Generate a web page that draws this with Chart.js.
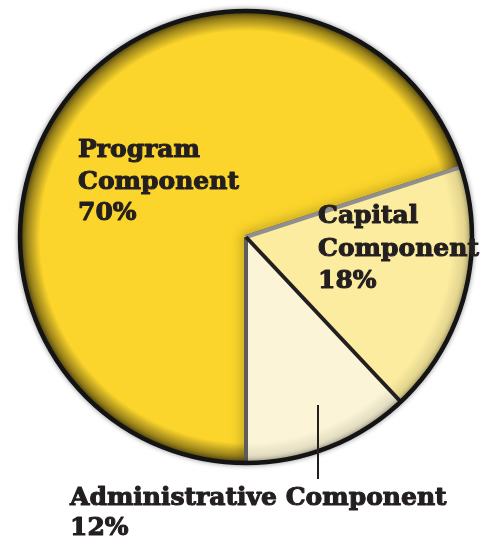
<!DOCTYPE html>
<html>
<head>
<meta charset="utf-8">
<script src="https://cdn.jsdelivr.net/npm/chart.js@4.4.0/dist/chart.umd.min.js"></script>
<style>
  html, body { margin: 0; padding: 0; background: #fff; }
  #wrap { width: 489px; height: 538px; position: relative; }
</style>
</head>
<body>
<div id="wrap"><canvas id="pie"></canvas></div>
<script>
// --- Data ---
const categories = ['Program Component', 'Capital Component', 'Administrative Component'];
const shares = [70, 18, 12];

// --- Finishing touches: edge shading, seams, outer rim ---
const pieFinish = {
    id: 'pieFinish',
    afterDatasetsDraw(chart) {
        const ctx = chart.ctx;
        const arcs = chart.getDatasetMeta(0).data;
        const cx = arcs[0].x, cy = arcs[0].y, r = arcs[0].outerRadius;

        function sector(arc) {
            ctx.beginPath();
            ctx.moveTo(cx, cy);
            ctx.arc(cx, cy, r, arc.startAngle, arc.endAngle);
            ctx.closePath();
        }
        function ray(a) {
            ctx.beginPath();
            ctx.moveTo(cx, cy);
            ctx.lineTo(cx + r * Math.cos(a), cy + r * Math.sin(a));
            ctx.stroke();
        }

        // darkened rim inside each slice
        arcs.forEach((arc, i) => {
            ctx.save();
            sector(arc);
            ctx.clip();
            const g = ctx.createRadialGradient(cx, cy, r - 20, cx, cy, r);
            const a = i === 0 ? 0.6 : 0.15;
            g.addColorStop(0, 'rgba(0,0,0,0)');
            g.addColorStop(1, `rgba(0,0,0,${a})`);
            ctx.fillStyle = g;
            ctx.fillRect(cx - r, cy - r, 2 * r, 2 * r);
            ctx.restore();
        });

        // soft shadow of the seams falling on the big slice
        const prog = arcs[0];
        ctx.save();
        sector(prog);
        ctx.clip();
        ctx.shadowColor = 'rgba(0,0,0,0.5)';
        ctx.shadowBlur = 12;
        ctx.strokeStyle = '#555';
        ctx.lineWidth = 4;
        ray(prog.startAngle);
        ray(prog.endAngle);
        ctx.restore();

        // seams
        const seamColors = ['#5c5c5c', '#8f8f8f', '#231f20'];
        ctx.save();
        ctx.lineWidth = 4;
        ctx.lineCap = 'butt';
        arcs.forEach((arc, i) => {
            ctx.strokeStyle = seamColors[i];
            ray(arc.startAngle);
        });
        ctx.restore();

        // outer rim
        ctx.save();
        ctx.shadowColor = 'rgba(0,0,0,0.45)';
        ctx.shadowBlur = 5;
        ctx.beginPath();
        ctx.arc(cx, cy, r, 0, 2 * Math.PI);
        ctx.lineWidth = 4.5;
        ctx.strokeStyle = '#141414';
        ctx.stroke();
        ctx.restore();
    },
    afterDraw(chart) {
        const ctx = chart.ctx;
        const arc = chart.getDatasetMeta(0).data[0];
        const cx = arc.x, cy = arc.y;
        ctx.save();
        ctx.fillStyle = '#231f20';
        ctx.strokeStyle = '#231f20';
        ctx.lineWidth = 1.1;
        ctx.lineJoin = 'round';
        ctx.font = 'bold 25px "DejaVu Serif"';
        ctx.textBaseline = 'alphabetic';

        function block(lines, x, y, step) {
            lines.forEach((t, i) => {
                ctx.fillText(t, x, y + i * step);
                ctx.strokeText(t, x, y + i * step);
            });
        }
        // Program, inside
        block([...categories[0].split(' '), shares[0] + '%'], cx - 168, cy - 80, 31.5);
        // Capital, inside
        block([...categories[1].split(' '), shares[1] + '%'], cx + 72, cy - 14, 32.5);
        // Administrative, outside with leader
        block([categories[2], shares[2] + '%'], cx - 176, cy + 268, 30);

        ctx.lineWidth = 2;
        ctx.beginPath();
        ctx.moveTo(cx + 72, cy + 168);
        ctx.lineTo(cx + 72, cy + 242);
        ctx.stroke();
        ctx.restore();
    }
};

new Chart(document.getElementById('pie'), {
    type: 'pie',
    data: {
        labels: categories,
        datasets: [{
            data: shares,
            backgroundColor: ['#fbd52b', '#fcec9f', '#fbf4d6'],
            borderWidth: 0
        }]
    },
    options: {
        responsive: true,
        maintainAspectRatio: false,
        animation: false,
        rotation: 180,
        layout: { padding: { left: 20, top: 11, right: 17, bottom: 75 } },
        plugins: {
            legend: { display: false },
            tooltip: { enabled: false }
        }
    },
    plugins: [pieFinish]
});
</script>
</body>
</html>
